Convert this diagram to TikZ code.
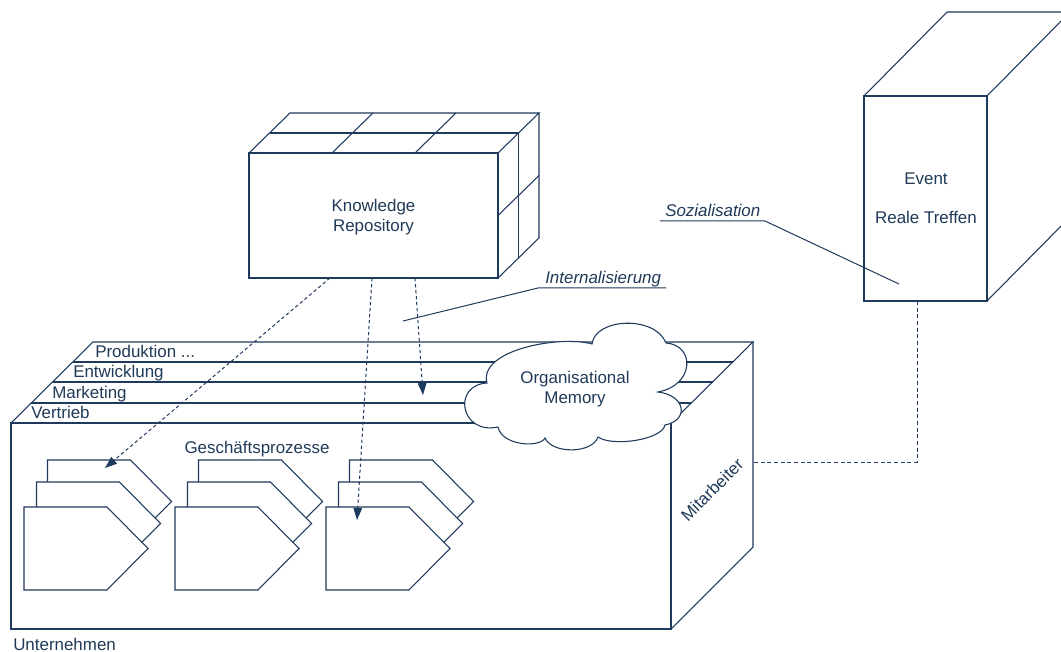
\documentclass[tikz,border=0pt]{standalone}
\usepackage{fontspec}
\setmainfont{Liberation Sans}
\usetikzlibrary{arrows.meta}
\definecolor{navy}{HTML}{1F3A5C}
\definecolor{inkblue}{HTML}{203A58}
\begin{document}
\begin{tikzpicture}[x=0.75pt,y=-0.75pt,line join=miter,
  edge/.style={draw=navy,line width=0.8pt},
  lbl/.style={text=inkblue,inner sep=0pt,font=\fontsize{12.7}{15}\selectfont},
  ilbl/.style={lbl,font=\fontsize{12.7}{15}\selectfont\itshape},
  flow/.style={draw=navy,line width=0.75pt,dash pattern=on 2.5pt off 2pt,
    -{Triangle[length=9pt,width=6.5pt]}},
  link/.style={draw=navy,line width=0.75pt,dash pattern=on 3pt off 2pt},
  procpage/.pic={\draw[edge,fill=white] (0,0) -- (83,0) -- (124,41.5) -- (83,83) -- (0,83) -- cycle;}]

\clip (0,0) rectangle (1061,652);
\fill[white] (0,0) rectangle (1061,652);

% ---------- Unternehmen: large box with the layer stack on top ----------
\draw[edge] (11,423) rectangle (671,629);
\draw[edge] (11,423) -- (93,342) -- (753,342) -- (671,423);
\draw[edge] (753,342) -- (753,547) -- (671,629);
\draw[edge] (72.8,362) -- (732.8,362);
\draw[edge] (52.5,382) -- (712.5,382);
\draw[edge] (31.2,403) -- (691.2,403);
\node[lbl,anchor=base west] (lProd) at (95,358) {Produktion ...};
\node[lbl,anchor=base west] (lEntw) at (73,378) {Entwicklung};
\node[lbl,anchor=base west] (lMark) at (52,399) {Marketing};
\node[lbl,anchor=base west] (lVert) at (31,419) {Vertrieb};
\node[lbl,anchor=base west] (lUnt) at (13,650) {Unternehmen};
\node[lbl,rotate=45] (lMit) at (712,490) {Mitarbeiter};
\coordinate (uRight) at (753,462);

% ---------- Organisational Memory cloud ----------
\draw[edge,fill=white]
  (487,383) .. controls (478,350) and (560,335) .. (592,344)
  .. controls (595,318) and (655,315) .. (666,343)
  .. controls (695,345) and (695,385) .. (658,392)
  .. controls (685,395) and (690,420) .. (665,425)
  .. controls (662,440) and (612,447) .. (598,437)
  .. controls (592,454) and (552,454) .. (545,438)
  .. controls (540,448) and (502,446) .. (498,427)
  .. controls (460,435) and (452,385) .. (487,383) -- cycle;
\node[lbl,anchor=base] (lOrg) at (575,384) {Organisational};
\node[lbl,anchor=base] (lMem) at (575,403) {Memory};

% ---------- Geschaeftsprozesse ----------
\node[lbl,anchor=base] (lGes) at (257,453) {Geschäftsprozesse};
\foreach \px in {24,175,326}{
  \pic at (\px+23.5,460) {procpage};
  \pic at (\px+12.5,482) {procpage};
  \pic at (\px,507) {procpage};
}

% ---------- Knowledge Repository ----------
\draw[edge] (249,153) rectangle (498,278);
\draw[edge] (249,153) -- (290,113) -- (539,113) -- (498,153);
\draw[edge] (539,113) -- (539,238) -- (498,278);
\draw[edge] (269.5,133) -- (518.5,133);
\draw[edge] (332,153) -- (373,113);
\draw[edge] (415,153) -- (456,113);
\draw[edge] (518.5,133) -- (518.5,258);
\draw[edge] (498,215.5) -- (539,175.5);
\node[lbl,align=center] (lKR) at (373.5,217) {Knowledge\\Repository};
\coordinate (kr1) at (330,278);
\coordinate (kr2) at (372,278);
\coordinate (kr3) at (415,278);
\coordinate (tg1) at (105,468);
\coordinate (tg2) at (357,520);
\coordinate (tg3) at (423,395);

% ---------- Event box ----------
\draw[edge] (864,96) rectangle (987,301);
\draw[edge] (864,96) -- (947,12) -- (1070,12) -- (987,96);
\draw[edge] (1070,12) -- (1070,217) -- (987,301);
\node[lbl,anchor=base] (lEvent) at (926,185) {Event};
\node[lbl,anchor=base] (lReal) at (926,224) {Reale Treffen};
\coordinate (evBottom) at (917,301);

% ---------- Annotations ----------
\node[ilbl,anchor=base west] (lSoz) at (665,217) {Sozialisation};
\coordinate (sozL) at (660,221);
\coordinate (sozR) at (765,221);
\coordinate (sozT) at (899,284);
\draw[edge,line width=0.75pt] (sozL) -- (sozR) -- (sozT);

\node[ilbl,anchor=base west] (lInt) at (545,284) {Internalisierung};
\coordinate (intR) at (666,288);
\coordinate (intL) at (538,288);
\coordinate (intT) at (403,321);
\draw[edge,line width=0.75pt] (intR) -- (intL) -- (intT);

% ---------- Connectors ----------
\draw[flow] (kr1) -- (tg1);
\draw[flow] (kr2) -- (tg2);
\draw[flow] (kr3) -- (tg3);
\draw[link] (evBottom) |- (uRight);
\end{tikzpicture}
\end{document}
